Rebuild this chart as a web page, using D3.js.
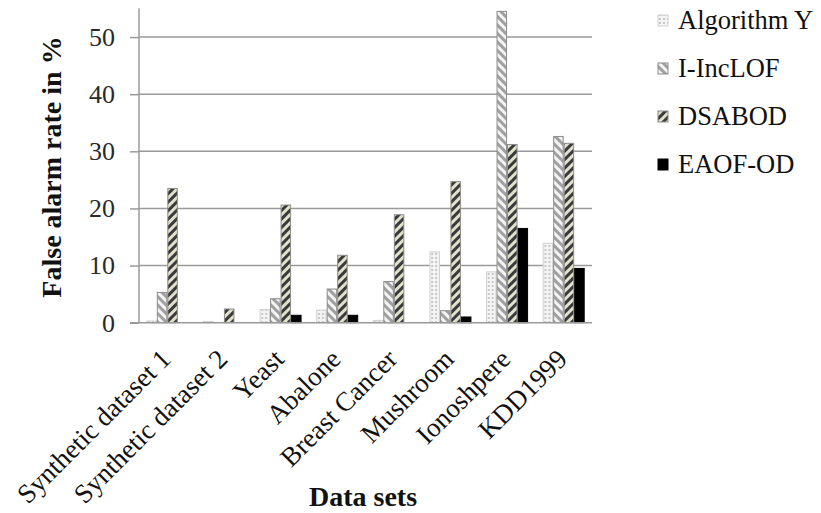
<!DOCTYPE html>
<html>
<head>
<meta charset="utf-8">
<script src="https://cdn.jsdelivr.net/npm/d3@7/dist/d3.min.js"></script>
<style>
  html, body { margin: 0; padding: 0; background: #fff; }
  svg { display: block; }
</style>
</head>
<body>
<svg id="chart" width="821" height="513"></svg>
<script>
// False alarm rate (%) per data set for each detection method
const categories = ["Synthetic dataset 1", "Synthetic dataset 2", "Yeast", "Abalone",
                    "Breast Cancer", "Mushroom", "Ionoshpere", "KDD1999"];
const seriesNames = ["Algorithm Y", "I-IncLOF", "DSABOD", "EAOF-OD"];
const algorithmY = [0.3, 0.2, 2.3, 2.2, 0.4, 12.4, 8.9, 13.9];
const iIncLOF    = [5.3, 0.0, 4.2, 5.9, 7.2, 2.1, 54.5, 32.6];
const dsabod     = [23.5, 2.4, 20.6, 11.8, 18.9, 24.7, 31.2, 31.4];
const eaofOD     = [0.0, 0.0, 1.3, 1.3, 0.0, 1.0, 16.5, 9.5];
const yTicks = [0, 10, 20, 30, 40, 50];

const seriesValues = [algorithmY, iIncLOF, dsabod, eaofOD];
const SERIF = "'Liberation Serif', 'Times New Roman', serif";

const svg = d3.select("#chart").style("font-family", SERIF);
const plotLeft = 139, plotRight = 592, plotBottom = 322.7, plotTop = 8.5;

const y = d3.scaleLinear().domain([0, 55]).range([plotBottom, plotTop]);
const x0 = d3.scaleBand().domain(categories).range([plotLeft, plotRight]);
const bw = x0.bandwidth();
const x1 = d3.scaleBand().domain(seriesNames).range([bw * 0.129, bw * 0.871]);

// Fill patterns
const defs = svg.append("defs");

const pDots = defs.append("pattern").attr("id", "p-dots")
  .attr("patternUnits", "userSpaceOnUse").attr("width", 4).attr("height", 4);
pDots.append("rect").attr("width", 4).attr("height", 4).attr("fill", "#f4f4f4");
pDots.append("rect").attr("x", 1).attr("y", 1).attr("width", 2).attr("height", 2).attr("fill", "#c8c8c8");

// light grey stripes running top-left to bottom-right
const pBack = defs.append("pattern").attr("id", "p-back")
  .attr("patternUnits", "userSpaceOnUse").attr("width", 6).attr("height", 6)
  .attr("patternTransform", "rotate(-45)");
pBack.append("rect").attr("width", 6).attr("height", 6).attr("fill", "#f4f4f4");
pBack.append("rect").attr("width", 3).attr("height", 6).attr("fill", "#a0a0a0");

// dark stripes running bottom-left to top-right
const pFwd = defs.append("pattern").attr("id", "p-fwd")
  .attr("patternUnits", "userSpaceOnUse").attr("width", 6).attr("height", 6)
  .attr("patternTransform", "rotate(45)");
pFwd.append("rect").attr("width", 6).attr("height", 6).attr("fill", "#e2e2cc");
pFwd.append("rect").attr("width", 3).attr("height", 6).attr("fill", "#3a3a3a");

const fills = ["url(#p-dots)", "url(#p-back)", "url(#p-fwd)", "#000"];
const strokes = ["#d0d0d0", "#8c8c8c", "#8c8c8c", "#000"];

// Gridlines
svg.append("g").selectAll("line").data(yTicks.filter(d => d > 0)).join("line")
  .attr("x1", plotLeft).attr("x2", plotRight)
  .attr("y1", d => y(d)).attr("y2", d => y(d))
  .attr("stroke", "#9a9a9a").attr("stroke-width", 1.5);

// Bars
const groups = svg.append("g").selectAll("g").data(categories).join("g")
  .attr("transform", d => `translate(${x0(d)},0)`);
groups.selectAll("rect")
  .data((c, ci) => seriesNames.map((s, si) => ({ s, si, v: seriesValues[si][ci] })))
  .join("rect")
  .filter(d => d.v > 0)
  .attr("x", d => x1(d.s) + 0.5)
  .attr("width", x1.bandwidth() - 1)
  .attr("y", d => y(d.v))
  .attr("height", d => y(0) - y(d.v))
  .attr("fill", d => fills[d.si])
  .attr("stroke", d => strokes[d.si])
  .attr("stroke-width", 1);

// Y axis
const yAxis = d3.axisLeft(y).tickValues(yTicks).tickSize(9).tickPadding(15);
const yg = svg.append("g").attr("transform", `translate(${plotLeft},0)`).call(yAxis);
yg.select(".domain").remove();
yg.selectAll(".tick line").attr("stroke", "#9a9a9a").attr("stroke-width", 1.5);
yg.selectAll(".tick text").style("font-family", SERIF)
  .style("font-size", "26px").attr("fill", "#2a2a2a");
svg.append("line").attr("x1", plotLeft).attr("x2", plotLeft).attr("y1", plotTop).attr("y2", plotBottom)
  .attr("stroke", "#9a9a9a").attr("stroke-width", 1.5);
svg.append("line").attr("x1", plotLeft - 9).attr("x2", plotRight).attr("y1", plotBottom).attr("y2", plotBottom)
  .attr("stroke", "#9a9a9a").attr("stroke-width", 1.5);

// X axis labels, rotated
const xAxis = d3.axisBottom(x0).tickSize(0).tickPadding(0);
const xg = svg.append("g").attr("transform", `translate(0,${plotBottom})`).call(xAxis);
xg.select(".domain").remove();
xg.selectAll(".tick text")
  .style("font-family", SERIF)
  .style("font-size", "27px").attr("fill", "#111")
  .attr("text-anchor", "end")
  .attr("dy", 0).attr("y", 0)
  .attr("transform", "translate(5,38) rotate(-45)");

// Axis titles
svg.append("text").attr("transform", `translate(61,167) rotate(-90)`)
  .attr("text-anchor", "middle").style("font-family", SERIF)
  .style("font-weight", "bold").style("font-size", "28px")
  .attr("fill", "#111").text("False alarm rate in %");
svg.append("text").attr("x", 363).attr("y", 506)
  .attr("text-anchor", "middle").style("font-family", SERIF)
  .style("font-weight", "bold").style("font-size", "28px")
  .attr("fill", "#111").text("Data sets");

// Legend
const lg = svg.append("g").selectAll("g").data(seriesNames).join("g")
  .attr("transform", (d, i) => `translate(658,${29 + i * 48})`);
lg.append("rect").attr("x", 0).attr("y", -14).attr("width", 10).attr("height", 11)
  .attr("fill", (d, i) => fills[i]).attr("stroke", (d, i) => strokes[i]);
lg.append("text").attr("x", 20).attr("y", 0)
  .style("font-family", SERIF).style("font-size", "26.5px")
  .attr("fill", "#111").text(d => d);
</script>
</body>
</html>
